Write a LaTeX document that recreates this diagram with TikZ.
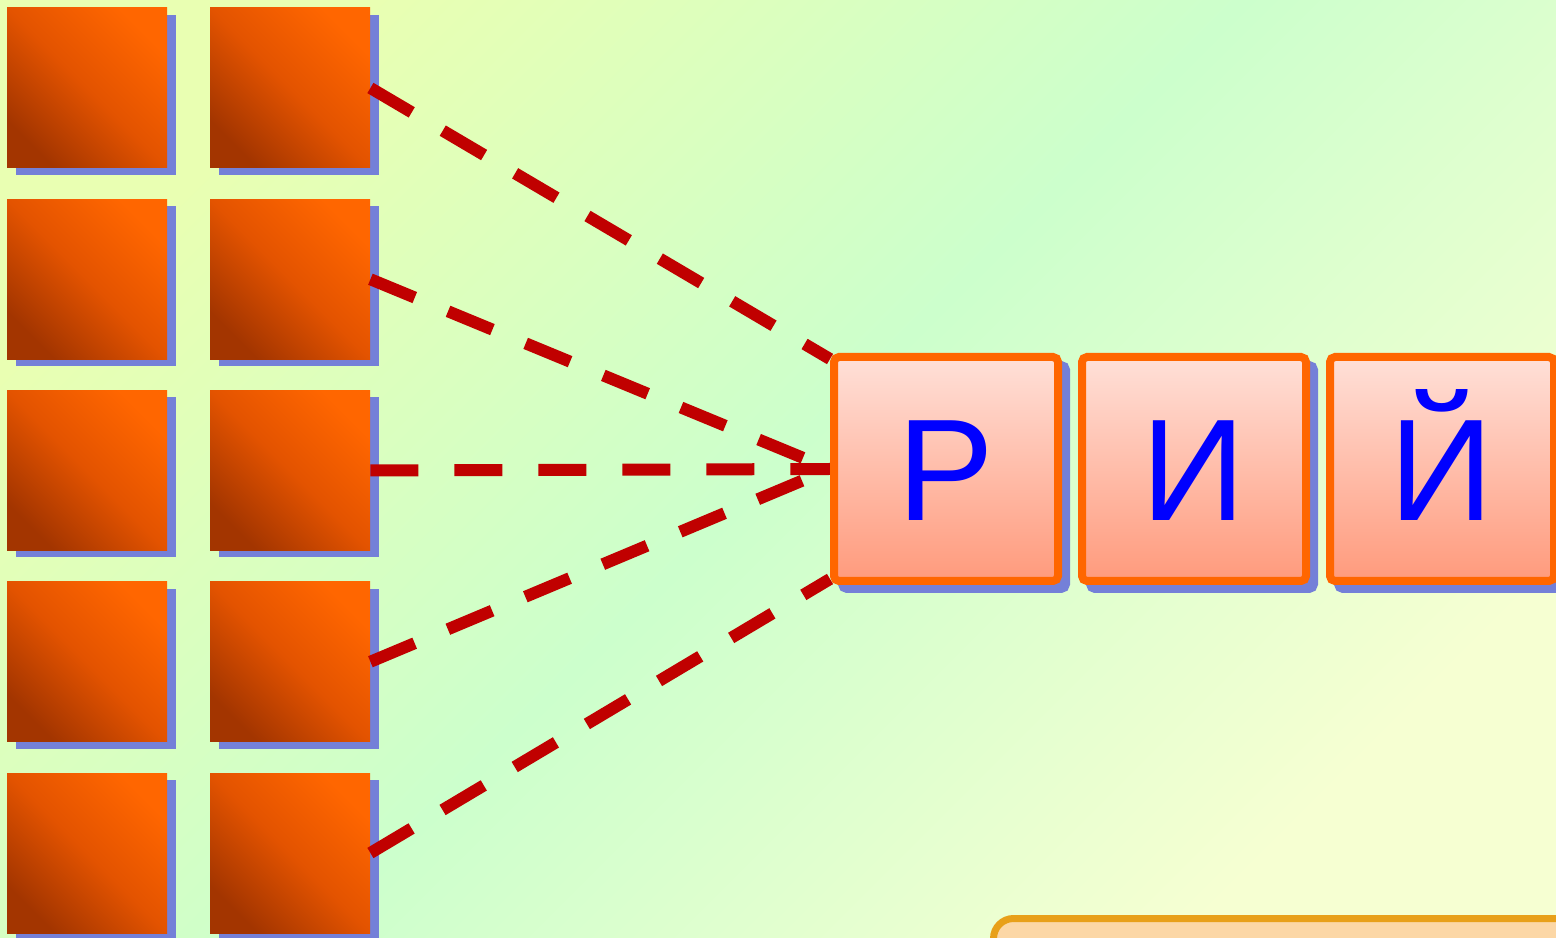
\documentclass[tikz,border=0pt]{standalone}
\usepackage{fontspec}
\newfontfamily\cyrfont{Liberation Sans}
\usetikzlibrary{shadows}
\definecolor{bgA}{HTML}{E9FFB2}
\definecolor{bgM}{HTML}{CCFFCC}
\definecolor{bgB}{HTML}{F6FFD2}
\definecolor{tileA}{HTML}{FF6600}
\definecolor{tileM}{HTML}{E35300}
\definecolor{tileB}{HTML}{A33500}
\definecolor{shadowblue}{HTML}{7480D8}
\definecolor{boxline}{HTML}{FF6600}
\definecolor{boxtop}{HTML}{FFE0D8}
\definecolor{boxbot}{HTML}{FF9A7C}
\definecolor{letterblue}{HTML}{0000FF}
\definecolor{linkred}{HTML}{C00000}
\definecolor{ansline}{HTML}{E8A01A}
\definecolor{ansfill}{HTML}{FCD7A6}
\pgfdeclarelayer{back}
\pgfdeclarelayer{front}
\pgfsetlayers{back,main,front}
\tikzset{
    tile/.style={minimum size=80pt, inner sep=0pt,
        top color=tileA, bottom color=tileB, middle color=tileM, shading angle=-45,
        drop shadow={fill=shadowblue, opacity=1, shadow xshift=4.25pt, shadow yshift=-3.5pt}},
    letterbox/.style={minimum size=112pt, inner sep=0pt, draw=boxline, line width=4pt,
        rounded corners=2.5pt, top color=boxtop, bottom color=boxbot, text=letterblue,
        font=\cyrfont\fontsize{72.5}{80}\selectfont, text height=52pt, text depth=0pt,
        drop shadow={fill=shadowblue, draw=shadowblue, line width=4pt, opacity=1,
            shadow xshift=4pt, shadow yshift=-4pt}},
    answerbox/.style={minimum width=350pt, minimum height=100pt, draw=ansline,
        line width=3.5pt, fill=ansfill, rounded corners=10pt},
    link/.style={draw=linkred, line width=6pt, dash pattern=on 24pt off 18pt}
}
\begin{document}
\begin{tikzpicture}[x=0.5pt, y=0.5pt]
        \useasboundingbox (0,0) rectangle (1556,937);
        \begin{pgfonlayer}{back}
            \fill[top color=bgA, bottom color=bgB, middle color=bgM, shading angle=45]
                (0,0) rectangle (1556,937);
        \end{pgfonlayer}
        \foreach \r in {1,...,5}
            \foreach \c/\x in {1/87, 2/290}
                \node[tile] (sq-\c-\r) at ({\x},{849-191.25*(\r-1)}) {};
        \begin{pgfonlayer}{front}
            \foreach \n/\l/\x in {R/Р/946, I/И/1194, J/Й/1442}
                \node[letterbox] (b\n) at (\x,468) {\l};
            \node[answerbox, anchor=north west] (ans) at (990,22) {};
        \end{pgfonlayer}
        \draw[link] (sq-2-1.east) -- ([yshift=-3pt]bR.north west);
        \foreach \r in {2,3,4}
            \draw[link] (sq-2-\r.east) -- (bR.west);
        \draw[link] (sq-2-5.east) -- ([yshift=3pt]bR.south west);
    \end{tikzpicture}
\end{document}
